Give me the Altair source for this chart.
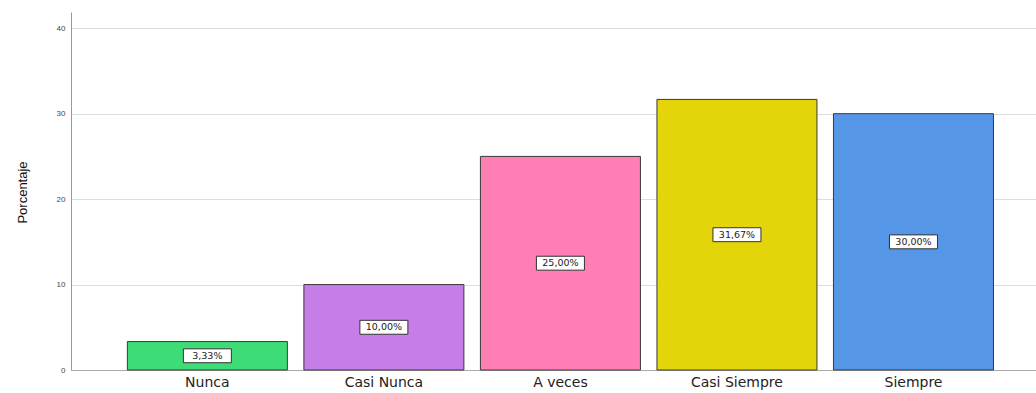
import altair as alt
import pandas as pd

categories = ["Nunca", "Casi Nunca", "A veces", "Casi Siempre", "Siempre"]
values = [3.33, 10.00, 25.00, 31.67, 30.00]
labels = ["3,33%", "10,00%", "25,00%", "31,67%", "30,00%"]
colors = ["#3ddc76", "#c77de8", "#ff7eb4", "#e4d50a", "#5596e6"]

df = pd.DataFrame({"cat": categories, "val": values, "lab": labels})

xscale = alt.Scale(domain=categories, paddingInner=0.0935, paddingOuter=0.28, align=0.57)
yscale = alt.Scale(domain=[0, 41.9], nice=False)

base = alt.Chart(df)

bars = base.mark_bar(stroke="#3a3a3a", strokeWidth=1).encode(
    x=alt.X("cat:N", scale=xscale, sort=categories,
            axis=alt.Axis(title=None, labelAngle=0, labelFontSize=14, labelColor="#222",
                          labelFont="DejaVu Sans", ticks=False, domainColor="#aaaaaa",
                          labelPadding=5, grid=False)),
    y=alt.Y("val:Q", scale=yscale,
            axis=alt.Axis(title="Porcentaje", values=[0, 10, 20, 30, 40], labelFontSize=8,
                          labelColor="#444", format="d", gridColor="#dddddd", domainColor="#999999",
                          ticks=False, labelPadding=6,
                          titleFontSize=13, titleFont="Liberation Sans", titleFontWeight="normal",
                          titleColor="#111", titleAngle=270, titleX=-49, titleY=180,
                          titleAlign="center", titleBaseline="middle")),
    color=alt.Color("cat:N", scale=alt.Scale(domain=categories, range=colors), legend=None),
)

mid = base.transform_calculate(mid="datum.val / 2")

boxes = mid.mark_point(
    shape="M-1,-0.29 L1,-0.29 L1,0.29 L-1,0.29 Z", size=2304, filled=True,
    fill="white", stroke="#333333", strokeWidth=1, opacity=1
).encode(
    x=alt.X("cat:N", scale=xscale, sort=categories),
    y=alt.Y("mid:Q", scale=yscale),
)

texts = mid.mark_text(fontSize=9.5, color="#222", font="DejaVu Sans").encode(
    x=alt.X("cat:N", scale=xscale, sort=categories),
    y=alt.Y("mid:Q", scale=yscale),
    text="lab:N",
)

chart = (bars + boxes + texts).properties(
    width=965, height=358,
    background="white",
    autosize=alt.AutoSizeParams(type="none"),
    padding={"left": 71, "top": 12, "right": 0, "bottom": 23},
).configure_view(stroke="transparent", strokeWidth=0)

chart.save("out.html", embed_options={"renderer": "svg", "actions": False})
